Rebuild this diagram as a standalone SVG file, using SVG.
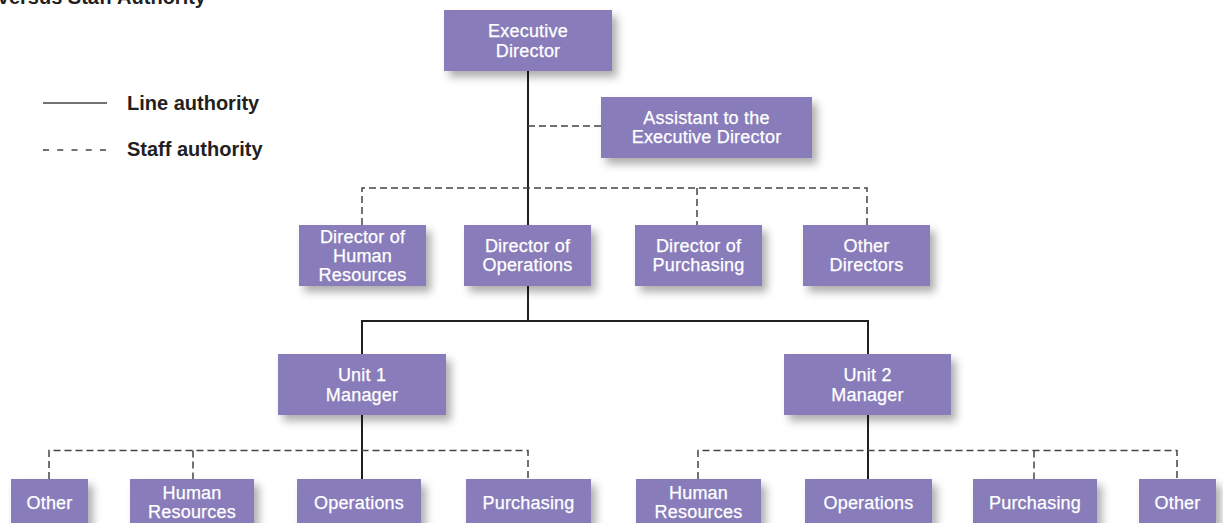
<svg xmlns="http://www.w3.org/2000/svg" width="1223" height="523" viewBox="0 0 1223 523">
<defs>
<filter id="sh" x="-20%" y="-20%" width="150%" height="160%">
<feDropShadow dx="5" dy="6" stdDeviation="4.5" flood-color="#000" flood-opacity="0.32"/>
</filter>
<style>
.box{fill:#887dba;filter:url(#sh)}
.lbl{font-family:"Liberation Sans",Arial,sans-serif;font-size:18px;letter-spacing:0.2px;fill:#fff;stroke:#fff;stroke-width:0.25;text-anchor:middle}
.solid{stroke:#231f20;stroke-width:2;fill:none}
.dash{stroke:#444;stroke-width:1.5;fill:none;stroke-dasharray:7 4}
.leg{font-family:"Liberation Sans",Arial,sans-serif;font-size:20px;font-weight:bold;fill:#231f20}
.title{font-family:"Liberation Sans",Arial,sans-serif;font-size:20px;font-weight:bold;fill:#231f20}
</style>
</defs>
<rect width="1223" height="523" fill="#fff"/>
<text class="title" x="206" y="4" text-anchor="end">versus Staff Authority</text>
<g id="legend">
<line x1="43" y1="103" x2="107" y2="103" stroke="#444" stroke-width="1.4"/>
<text class="leg" x="127" y="110">Line authority</text>
<line x1="43" y1="150" x2="107" y2="150" stroke="#444" stroke-width="1.4" stroke-dasharray="6 8.25"/>
<text class="leg" x="127" y="156">Staff authority</text>
</g>
<g id="connectors">
<path class="solid" d="M528 71V225M528 286V321M362 321H868M362 320V354M868 320V354M362 415V479M868 415V479"/>
<path class="dash" d="M528 126H601"/>
<path class="dash" d="M362 225V188H867V225M697 188V225"/>
<path class="dash" d="M49 479V450.5H528V479M193 450.5V479"/>
<path class="dash" d="M698 479V450.5H1177V479M1034 450.5V479"/>
</g>
<g id="exec"><rect class="box" x="444" y="10" width="168" height="61"/><text class="lbl" x="528" y="37">Executive</text><text class="lbl" x="528" y="56.5">Director</text></g>
<g id="assistant"><rect class="box" x="601" y="97" width="211" height="61"/><text class="lbl" x="706.5" y="123.5">Assistant to the</text><text class="lbl" x="706.5" y="143">Executive Director</text></g>
<g id="dir-hr"><rect class="box" x="299" y="225" width="127" height="61"/><text class="lbl" x="362.5" y="242.5">Director of</text><text class="lbl" x="362.5" y="262">Human</text><text class="lbl" x="362.5" y="281">Resources</text></g>
<g id="dir-ops"><rect class="box" x="464" y="225" width="127" height="61"/><text class="lbl" x="527.5" y="251.5">Director of</text><text class="lbl" x="527.5" y="270.5">Operations</text></g>
<g id="dir-pur"><rect class="box" x="635" y="225" width="127" height="61"/><text class="lbl" x="698.5" y="251.5">Director of</text><text class="lbl" x="698.5" y="270.5">Purchasing</text></g>
<g id="dir-other"><rect class="box" x="803" y="225" width="127" height="61"/><text class="lbl" x="866.5" y="251.5">Other</text><text class="lbl" x="866.5" y="270.5">Directors</text></g>
<g id="unit1"><rect class="box" x="278" y="354" width="168" height="61"/><text class="lbl" x="362" y="381">Unit 1</text><text class="lbl" x="362" y="400.5">Manager</text></g>
<g id="unit2"><rect class="box" x="784" y="354" width="167" height="61"/><text class="lbl" x="867.5" y="381">Unit 2</text><text class="lbl" x="867.5" y="400.5">Manager</text></g>
<g id="u1-other"><rect class="box" x="11" y="479" width="77" height="60"/><text class="lbl" x="49.5" y="509">Other</text></g>
<g id="u1-hr"><rect class="box" x="130" y="479" width="124" height="60"/><text class="lbl" x="192" y="498.5">Human</text><text class="lbl" x="192" y="517.5">Resources</text></g>
<g id="u1-ops"><rect class="box" x="297" y="479" width="124" height="60"/><text class="lbl" x="359" y="509">Operations</text></g>
<g id="u1-pur"><rect class="box" x="466" y="479" width="125" height="60"/><text class="lbl" x="528.5" y="509">Purchasing</text></g>
<g id="u2-hr"><rect class="box" x="636" y="479" width="125" height="60"/><text class="lbl" x="698.5" y="498.5">Human</text><text class="lbl" x="698.5" y="517.5">Resources</text></g>
<g id="u2-ops"><rect class="box" x="805" y="479" width="127" height="60"/><text class="lbl" x="868.5" y="509">Operations</text></g>
<g id="u2-pur"><rect class="box" x="973" y="479" width="124" height="60"/><text class="lbl" x="1035" y="509">Purchasing</text></g>
<g id="u2-other"><rect class="box" x="1139" y="479" width="77" height="60"/><text class="lbl" x="1177.5" y="509">Other</text></g>
</svg>
